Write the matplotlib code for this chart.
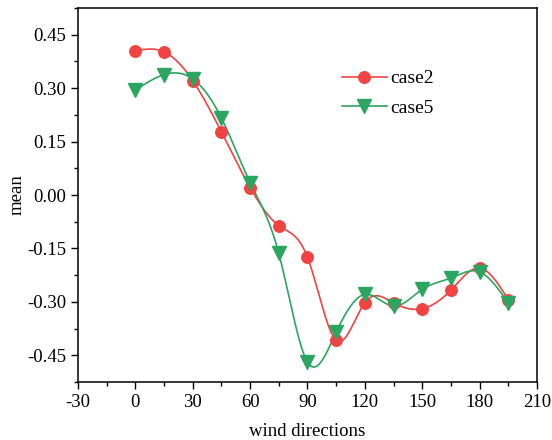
import numpy as np
import matplotlib.pyplot as plt

plt.rcParams['font.family'] = ['Liberation Serif', 'DejaVu Serif']
plt.rcParams['axes.unicode_minus'] = False

directions = [0, 15, 30, 45, 60, 75, 90, 105, 120, 135, 150, 165, 180, 195]
case2 = [0.405, 0.402, 0.321, 0.177, 0.021, -0.086, -0.175, -0.408,
         -0.302, -0.303, -0.319, -0.267, -0.205, -0.294]
case5 = [0.294, 0.338, 0.326, 0.216, 0.035, -0.164, -0.469, -0.385,
         -0.279, -0.312, -0.265, -0.233, -0.216, -0.303]


def spline(x, y, n=400):
    # natural cubic spline through the points, just for the smooth line
    x = np.asarray(x, float); y = np.asarray(y, float)
    k = len(x)
    h = np.diff(x)
    A = np.zeros((k, k)); r = np.zeros(k)
    A[0, 0] = A[-1, -1] = 1
    for i in range(1, k - 1):
        A[i, i - 1] = h[i - 1]
        A[i, i] = 2 * (h[i - 1] + h[i])
        A[i, i + 1] = h[i]
        r[i] = 6 * ((y[i + 1] - y[i]) / h[i] - (y[i] - y[i - 1]) / h[i - 1])
    M = np.linalg.solve(A, r)
    xs = np.linspace(x[0], x[-1], n)
    j = np.clip(np.searchsorted(x, xs) - 1, 0, k - 2)
    t0 = x[j + 1] - xs; t1 = xs - x[j]
    ys = (M[j] * t0**3 + M[j + 1] * t1**3) / (6 * h[j]) \
        + (y[j] / h[j] - M[j] * h[j] / 6) * t0 \
        + (y[j + 1] / h[j] - M[j + 1] * h[j] / 6) * t1
    return xs, ys


red = '#F24343'
green = '#2BA660'

fig = plt.figure(figsize=(5.52, 4.40), dpi=100)
ax = fig.add_axes([0.1413, 0.1318, 0.8315, 0.85])

for vals, col, mk, ms, lab in [(case2, red, 'o', 8.3, 'case2'),
                               (case5, green, 'v', 9.5, 'case5')]:
    xs, ys = spline(directions, vals)
    ax.plot(xs, ys, color=col, lw=1.2, zorder=2)
    ax.plot(directions, vals, ls='none', marker=mk, ms=ms, color=col, zorder=3)
    ax.plot([], [], color=col, lw=1.2, marker=mk, ms=ms, label=lab)

ax.set_xlim(-30, 210)
ax.set_ylim(-0.525, 0.525)
ax.set_xticks(np.arange(-30, 211, 30))
ax.set_xticks(np.arange(-15, 210, 30), minor=True)
ax.set_yticks([-0.45, -0.30, -0.15, 0.0, 0.15, 0.30, 0.45])
ax.set_yticks(np.arange(-0.525, 0.53, 0.15), minor=True)
ax.set_yticklabels(['-0.45', '-0.30', '-0.15', '0.00', '0.15', '0.30', '0.45'])
ax.tick_params(which='major', length=5, width=1, labelsize=13.5, direction='out')
ax.tick_params(which='minor', length=3, width=1, direction='out')
for s in ax.spines.values():
    s.set_linewidth(1.1)

ax.set_xlabel('wind directions', fontsize=13.5, labelpad=9)
ax.set_ylabel('mean', fontsize=13.5, labelpad=1)

ax.legend(loc='upper left', bbox_to_anchor=(0.575, 0.835), frameon=False,
          fontsize=14, handlelength=2.3, handletextpad=0.2,
          labelspacing=0.6, borderpad=0, borderaxespad=0)

fig.savefig('out.png', dpi=100)
